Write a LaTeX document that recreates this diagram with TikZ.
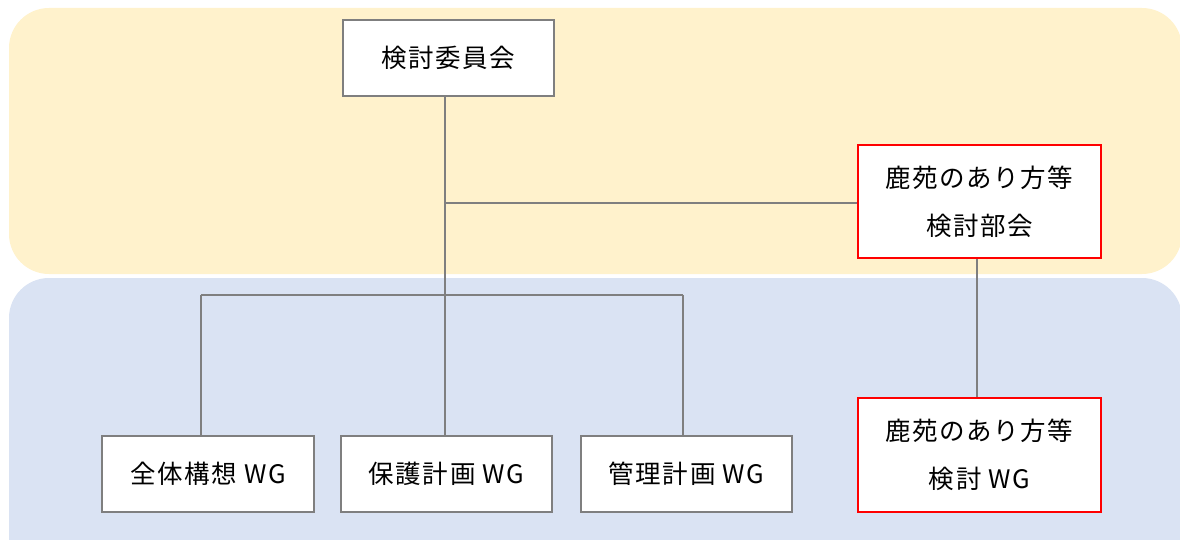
\documentclass[tikz,border=0pt]{standalone}
\usepackage{fontspec}
\newfontfamily\jp[LetterSpace=6]{Noto Sans CJK JP}
\definecolor{bgy}{HTML}{FFF2CC}
\definecolor{bgb}{HTML}{DAE3F3}
\definecolor{lg}{HTML}{7F7F7F}
\begin{document}
\begin{tikzpicture}[x=1pt,y=-1pt,
  box/.style={draw=lg,line width=1.2pt,fill=white,inner sep=0pt,font=\jp\fontsize{25.5}{48}\selectfont,align=center},
  redbox/.style={box,draw=red,line width=2.2pt},
  conn/.style={draw=lg,line width=1.2pt}]
\useasboundingbox (0,0) rectangle (1180,540);
\fill[bgy,rounded corners=40pt] (9,8) rectangle (1182,274);
\fill[bgb,rounded corners=40pt] (9,278) rectangle (1182,580);
\node[box,minimum width=211pt,minimum height=76pt] (iin) at (448.5,58) {検討委員会};
\node[redbox,minimum width=243pt,minimum height=113pt] (bukai) at (979.5,201.5) {鹿苑のあり方等\\検討部会};
\node[box,minimum width=212pt,minimum height=76pt] (w1) at (208,474) {全体構想 WG};
\node[box,minimum width=211pt,minimum height=76pt] (w2) at (446.5,474) {保護計画 WG};
\node[box,minimum width=211pt,minimum height=76pt] (w3) at (686.5,474) {管理計画 WG};
\node[redbox,minimum width=243pt,minimum height=114pt] (w4) at (979.5,455) {鹿苑のあり方等\\検討 WG};
\coordinate (j1) at (445,203);
\coordinate (j2) at (445,295);
\coordinate (jl) at (201,295);
\coordinate (jr) at (683,295);
\draw[conn] (iin.south -| j1) -- (j2);
\draw[conn] (j1) -- (j1 -| bukai.west);
\draw[conn] (jl) -- (jr);
\draw[conn] (jl) -- (w1.north -| jl);
\draw[conn] (j2) -- (w2.north -| j2);
\draw[conn] (jr) -- (w3.north -| jr);
\draw[conn] (bukai.south -| 977,0) -- (w4.north -| 977,0);
\end{tikzpicture}
\end{document}
